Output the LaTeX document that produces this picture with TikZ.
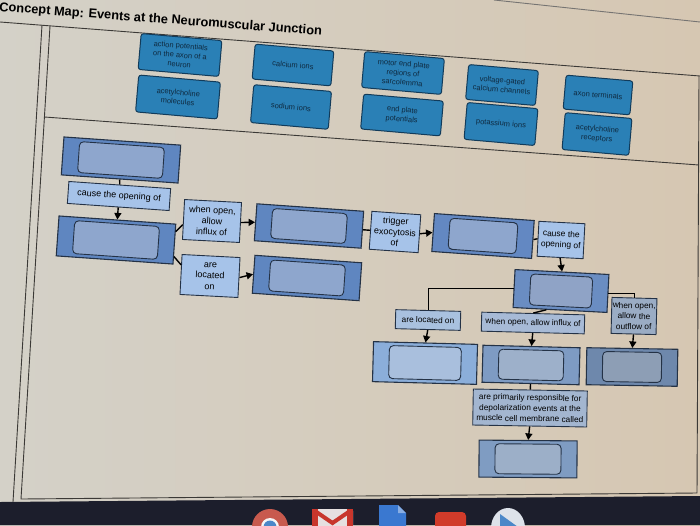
\documentclass[tikz,border=0pt]{standalone}
\usepackage{fontspec}
\setmainfont{Liberation Sans}
\usetikzlibrary{arrows.meta,calc}
\definecolor{bgL}{HTML}{D4D1C8}
\definecolor{bgR}{HTML}{D6C7B2}
\definecolor{frameC}{HTML}{3B3936}
\definecolor{tile}{HTML}{2A80B6}
\definecolor{tileedge}{HTML}{123B5A}
\definecolor{tiletext}{HTML}{0F2A40}
\definecolor{boxedge}{HTML}{243246}
\definecolor{outerA}{HTML}{5F86C0}
\definecolor{innerA}{HTML}{8EA6CD}
\definecolor{outerE}{HTML}{6388C2}
\definecolor{outerF}{HTML}{6A8DC2}
\definecolor{innerF}{HTML}{8FA3C6}
\definecolor{labA}{HTML}{A6C3E9}
\definecolor{outerG}{HTML}{8BAEDA}
\definecolor{innerG}{HTML}{A9BFDD}
\definecolor{outerH}{HTML}{7E9BC3}
\definecolor{innerH}{HTML}{9DB0CA}
\definecolor{outerI}{HTML}{6E88AC}
\definecolor{innerI}{HTML}{8D9EB5}
\definecolor{outerJ}{HTML}{7F9CC2}
\definecolor{innerJ}{HTML}{9CAFC8}
\definecolor{labG}{HTML}{A9C1DF}
\definecolor{labH}{HTML}{A7BAD6}
\definecolor{labI}{HTML}{9AACC4}
\definecolor{labJ}{HTML}{A3B6D0}
\definecolor{taskbar}{HTML}{1C1E2C}
\definecolor{chromeRed}{HTML}{C85A4E}
\definecolor{chromeBlue}{HTML}{4B87C8}
\definecolor{gmailW}{HTML}{E6E0E0}
\definecolor{gmailR}{HTML}{C8362C}
\definecolor{docsB}{HTML}{3A78D0}
\definecolor{ytR}{HTML}{D13B2A}
\definecolor{playW}{HTML}{DDE2EA}
\newcommand\ansbox[8]{%
  \node[abox,fill=#7,minimum width=#4,minimum height=#5,rotate=#6] (#1) at (#2,#3) {};
  \node[ainner,fill=#8,minimum width=#4-32,minimum height=#5-7,rotate=#6] (#1-in) at (#1.center) {};
}
\begin{document}
\begin{tikzpicture}[x=1pt,y=-1pt,
  framel/.style={draw=frameC,line width=0.9pt},
  tilebox/.style={draw=tileedge,line width=1pt,fill=tile,rounded corners=2.5pt,inner sep=1pt,align=center,text=tiletext,font=\fontsize{7.5}{9.3}\selectfont,rotate=-5},
  abox/.style={draw=boxedge,line width=1.1pt,inner sep=0pt},
  ainner/.style={draw=boxedge,line width=0.9pt,rounded corners=4pt,inner sep=0pt},
  lab/.style={draw=boxedge,line width=0.9pt,inner sep=1pt,align=center,text=black,fill=labA,font=\fontsize{9}{11}\selectfont},
  labs/.style={lab,font=\fontsize{8.3}{10.5}\selectfont},
  conn/.style={draw=black,line width=1.4pt},
  arr/.style={conn,-{Triangle[length=6.5pt,width=7pt]}}
]
\useasboundingbox (0,0) rectangle (700,525);
\fill[left color=bgL,right color=bgR] (0,0) rectangle (700,525);

% title
\node[anchor=base west,rotate=-4.3,inner sep=0pt,font=\bfseries\fontsize{12.8}{14}\selectfont] (title) at (-1,11) {Concept Map: Events at the Neuromuscular Junction};

% frame lines
\coordinate (tl) at (0,22);
\coordinate (tr) at (700,76);
\coordinate (o1) at (42,25);
\coordinate (o2) at (13,502);
\coordinate (i1) at (50,26);
\coordinate (i2) at (21,499);
\coordinate (pb1) at (44.5,117);
\coordinate (pb2) at (699,165);
\coordinate (r1) at (699,76);
\coordinate (r2) at (697,493);
\draw[framel] (tl) -- (tr);
\draw[framel,draw=frameC!70] (494,0) -- (700,22);
\draw[framel] (o1) -- (o2);
\draw[framel] (i1) -- (i2) -- (r2) -- (r1);
\draw[framel] (pb1) -- (pb2);

% palette tiles
\begin{scope}
\clip (0,22) -- (700,76) -- (700,525) -- (0,525) -- cycle;
\node[tilebox,minimum width=81,minimum height=36] (t1) at (180,55) {action potentials\\on the axon of a\\neuron};
\node[tilebox,minimum width=79,minimum height=35] (t2) at (293,65) {calcium ions};
\node[tilebox,minimum width=80,minimum height=36] (t3) at (403,73) {motor end plate\\regions of\\sarcolemma};
\node[tilebox,minimum width=70,minimum height=35] (t4) at (502,85) {voltage-gated\\calcium channels};
\node[tilebox,minimum width=67,minimum height=34] (t5) at (598,95) {axon terminals};
\node[tilebox,minimum width=82,minimum height=37] (t6) at (178,97) {acetylcholine\\molecules};
\node[tilebox,minimum width=78,minimum height=38] (t7) at (291,107) {sodium ions};
\node[tilebox,minimum width=80,minimum height=35] (t8) at (402,115) {end plate\\potentials};
\node[tilebox,minimum width=71,minimum height=37] (t9) at (501,124) {potassium ions};
\node[tilebox,minimum width=67,minimum height=37] (t10) at (597,134) {acetylcholine\\receptors};
\end{scope}

% answer boxes
\ansbox{a}{121}{160}{117}{38}{-4}{outerA}{innerA}
\ansbox{b}{116}{240}{117}{40}{-4}{outerA}{innerA}
\ansbox{c}{309}{226}{107}{37}{-4}{outerA}{innerA}
\ansbox{d}{307}{278}{107}{38}{-4}{outerA}{innerA}
\ansbox{e}{483}{236}{100}{38}{-4}{outerE}{innerA}
\ansbox{f}{561}{291}{94}{38}{-3}{outerF}{innerF}
\ansbox{g}{425}{363}{104}{40}{-1.5}{outerG}{innerG}
\ansbox{h}{531}{365}{97}{37}{-1.5}{outerH}{innerH}
\ansbox{i}{632}{367}{91}{37}{-1}{outerI}{innerI}
\ansbox{j}{528}{459}{98}{37}{-0.5}{outerJ}{innerJ}

% linking phrases
\node[lab,minimum width=102,minimum height=22,rotate=-4] (l1) at (119,196) {cause the opening of};
\node[lab,minimum width=57,minimum height=40,rotate=-3] (l2) at (212,221) {when open,\\allow\\influx of};
\node[lab,minimum width=58,minimum height=40,rotate=-3] (l3) at (210,276) {are\\located\\on};
\node[lab,minimum width=49,minimum height=38,rotate=-4] (l4) at (395,232) {trigger\\exocytosis\\of};
\node[lab,minimum width=46,minimum height=35,rotate=-3,font=\fontsize{8.5}{10.5}\selectfont] (l5) at (561,240) {cause the\\opening of};
\node[labs,fill=labG,minimum width=65,minimum height=19,rotate=-1.5] (l6) at (428,320) {are located on};
\node[labs,fill=labH,minimum width=103,minimum height=19,rotate=-1.5] (l7) at (533,323) {when open, allow influx of};
\node[labs,fill=labI,minimum width=45,minimum height=36,rotate=-1.5] (l8) at (634,316) {when open,\\allow the\\outflow of};
\node[labs,fill=labJ,minimum width=114,minimum height=36,rotate=-1] (l9) at (530,408) {are primarily responsible for\\depolarization events at the\\muscle cell membrane called};

% connectors
\draw[conn] (a.south) -- (l1.north);
\draw[arr] (l1.south) -- (b.north);
\draw[conn] (b.12) -- (l2.190);
\draw[conn] (b.-12) -- (l3.162);
\draw[arr] (l2.east) -- (c.west);
\draw[arr] (l3.east) -- (d.west);
\draw[conn] (c.east) -- (l4.west);
\draw[arr] (l4.east) -- (e.west);
\draw[conn] (e.east) -- (l5.west);
\draw[arr] (l5.south) -- (f.north);
\draw[conn] (f.west) -| (l6.north);
\draw[arr] (l6.south) -- (g.north);
\draw[conn] (f.235) -- (l7.north);
\draw[arr] (l7.south) -- (h.north);
\draw[conn] (f.east) -| (l8.north);
\draw[arr] (l8.south) -- (i.north);
\draw[conn] (h.south) -- (l9.north);
\draw[arr] (l9.south) -- (j.north);

% taskbar
\fill[taskbar] (0,502) -- (700,496) -- (700,525) -- (0,525) -- cycle;
\begin{scope}
\clip (0,500) rectangle (700,525);
\fill[chromeRed] (270,527) circle (18);
\fill[white!92!gray] (270,527) circle (9);
\fill[chromeBlue] (270,527) circle (6.5);
\fill[gmailW,rounded corners=2pt] (312,509) rectangle (353,530);
\fill[gmailR] (312,509) rectangle (318,530);
\fill[gmailR] (347,509) rectangle (353,530);
\draw[gmailR,line width=4pt] (315,511) -- (332.5,523) -- (350,511);
\fill[docsB] (379,505) -- (398,505) -- (406,513) -- (406,530) -- (379,530) -- cycle;
\fill[docsB!60!white] (398,505) -- (398,513) -- (406,513) -- cycle;
\fill[ytR,rounded corners=4pt] (435,512) rectangle (466,532);
\fill[playW] (508,528) ellipse (17 and 20);
\fill[chromeBlue] (500,514) -- (518,527) -- (500,540) -- cycle;
\end{scope}
\end{tikzpicture}
\end{document}
